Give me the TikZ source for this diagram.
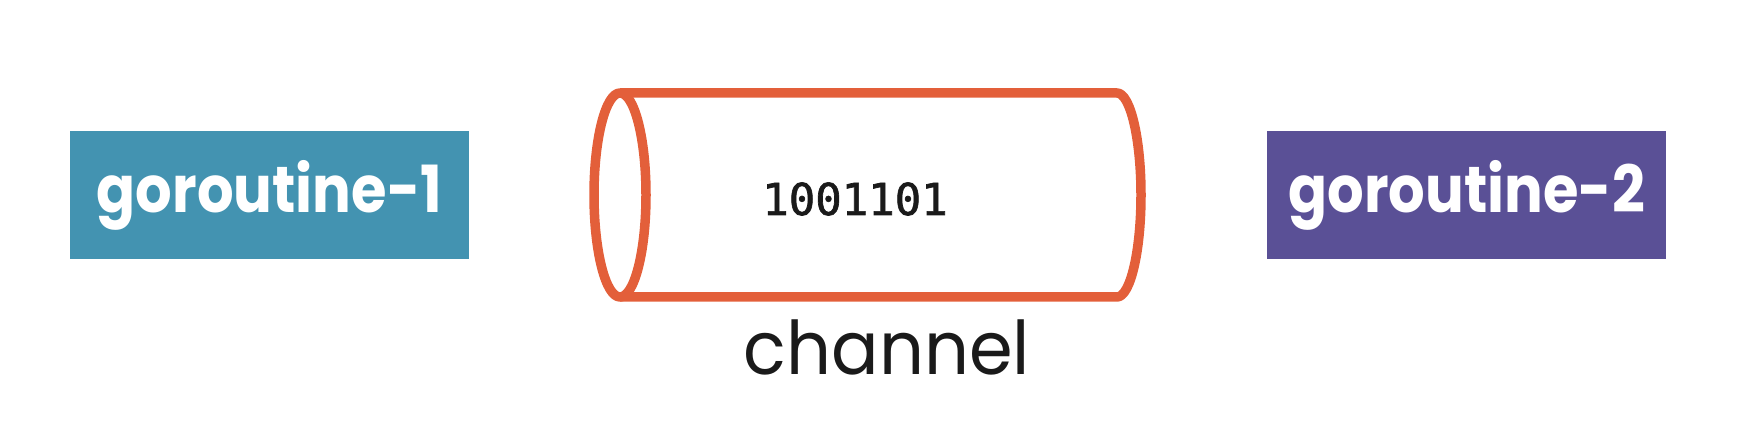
\documentclass[tikz,border=0pt]{standalone}
\usepackage{fontspec}
\usepackage{tikz}
\usetikzlibrary{positioning,calc}
\newfontfamily\popfont{Poppins}
\newfontfamily\popnarrow[FakeStretch=0.885]{Poppins}
\newfontfamily\chanfont[FakeStretch=0.95]{Poppins}
\newfontfamily\bitfont[FakeBold=1.5]{DejaVu Sans Mono}
\definecolor{goteal}{HTML}{4393B1}
\definecolor{gopurple}{HTML}{5A5096}
\definecolor{pipeline}{HTML}{E35F3A}
\definecolor{inkblack}{HTML}{1A1A1A}
\tikzset{
  gobox/.style={inner sep=0pt,minimum width=399pt,minimum height=128pt,text=white,
    font=\popnarrow\bfseries\fontsize{65}{70}\selectfont},
  pipe/.style={draw=pipeline,line width=9.5pt,line join=round}
}

\begin{document}
\begin{tikzpicture}[x=1pt,y=1pt]
  \useasboundingbox (0,0) rectangle (1746,428);
  \node[gobox,fill=goteal] (g1) at (269.5,232.5) {goroutine-1};
  \node[gobox,fill=gopurple,right=798pt of g1] (g2) {goroutine-2};

  % the channel pipe
  \coordinate (cl) at (620,233);
  \coordinate (cr) at (1117,233);
  \draw[pipe] ($(cl)+(0,102)$) -- ($(cr)+(0,102)$)
    arc[start angle=90,end angle=-90,x radius=24,y radius=102] -- ($(cl)+(0,-102)$);
  \draw[pipe] (cl) ellipse[x radius=26,y radius=102];

  \node[anchor=base,text=inkblack,font=\bitfont\fontsize{44}{50}\selectfont] (bits) at (855,213) {1001101};
  \node[anchor=base,text=inkblack,font=\chanfont\fontsize{74}{80}\selectfont] (chan) at (887,53) {channel};
\end{tikzpicture}
\end{document}
